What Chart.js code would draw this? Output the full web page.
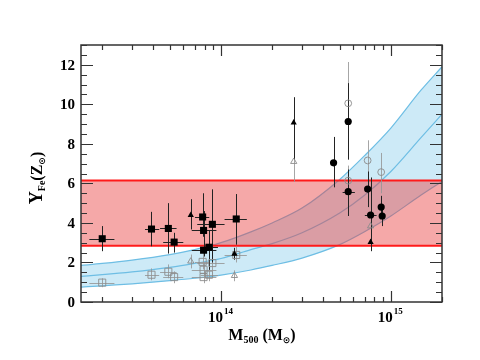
<!DOCTYPE html>
<html><head><meta charset="utf-8">
<script src="https://cdn.jsdelivr.net/npm/chart.js@4.4.0/dist/chart.umd.min.js"></script>
<style>html,body{margin:0;padding:0;background:#fff}</style>
</head><body>
<canvas id="c" width="480" height="360" style="width:480px;height:360px;display:block"></canvas>
<script>
// ---- axis ranges & tick labels ----
const xMin = 1.5e13, xMax = 2e15;
const yMin = 0, yMax = 13;
const yTickLabels = [0, 2, 4, 6, 8, 10, 12];
const xTickLabels = [1e14, 1e15];

// ---- red band ----
const redLow = 2.85, redHigh = 6.15;

// ---- blue band (read at sample masses) ----
const bandM      = [1.5e13, 2e13, 3e13, 5e13, 7e13, 1e14, 1.5e14, 2e14, 3e14, 5e14, 7e14, 1e15, 1.5e15, 2e15];
const bandUpper  = [1.85, 1.95, 2.12, 2.4, 2.65, 3.0, 3.55, 4.0, 4.75, 6.2, 7.4, 8.8, 10.7, 11.9];
const bandCenter = [1.3, 1.38, 1.52, 1.75, 1.95, 2.2, 2.65, 2.95, 3.5, 4.5, 5.4, 6.6, 8.3, 9.5];
const bandLower  = [0.75, 0.82, 0.92, 1.08, 1.2, 1.36, 1.62, 1.85, 2.22, 2.9, 3.55, 4.35, 5.4, 6.1];

// ---- filled squares ----
const sqM   = [2.0e13, 3.9e13, 4.9e13, 5.3e13, 7.8e13, 7.9e13, 8.9e13, 7.9e13, 8.5e13, 1.23e14];
const sqY   = [3.2, 3.69, 3.72, 3.03, 4.3, 3.62, 3.93, 2.62, 2.77, 4.2];
const sqYlo = [2.57, 2.82, 2.45, 2.5, 3.3, 2.6, 2.0, 2.3, 1.63, 2.9];
const sqYhi = [3.84, 4.56, 5.0, 3.5, 5.5, 4.6, 5.7, 2.9, 3.6, 5.46];
const sqMlo = [1.68e13, 3.57e13, 4.38e13, 4.57e13, 7.03e13, 6.73e13, 7.25e13, 6.73e13, 7.6e13, 1.05e14];
const sqMhi = [2.36e13, 4.33e13, 5.48e13, 6.0e13, 8.53e13, 9.4e13, 1.05e14, 9.4e13, 9.6e13, 1.42e14];

// ---- filled triangles ----
const triM   = [6.64e13, 1.2e14, 2.68e14, 7.6e14];
const triY   = [4.39, 2.43, 9.07, 3.03];
const triYlo = [3.67, 2.14, 7.2, 2.6];
const triYhi = [5.2, 2.74, 10.36, 3.6];

// ---- filled circles ----
const cirM   = [4.6e14, 5.61e14, 5.61e14, 7.3e14, 7.6e14, 8.77e14, 8.89e14];
const cirY   = [7.04, 9.13, 5.58, 5.71, 4.4, 4.8, 4.35];
const cirYlo = [5.8, 7.2, 4.35, 4.8, 2.57, 4.3, 3.84];
const cirYhi = [8.35, 11.07, 6.7, 6.6, 6.3, 5.37, 4.8];
const cirMlo = [4.6e14, 5.61e14, 5.2e14, 7.3e14, 7.03e14, 8.77e14, 8.89e14];
const cirMhi = [4.6e14, 5.61e14, 6.14e14, 7.3e14, 8.24e14, 8.77e14, 8.89e14];

// ---- open circles ----
const ocM   = [5.61e14, 7.3e14, 8.77e14, 5.61e14];
const ocY   = [10.05, 7.16, 6.57, 6.14];
const ocYlo = [8.0, 5.5, 5.5, 5.4];
const ocYhi = [12.14, 8.18, 7.54, 6.9];

// ---- open squares ----
const osM   = [2.0e13, 3.9e13, 4.9e13, 5.3e13, 7.8e13, 7.9e13, 8.9e13, 7.9e13, 8.5e13, 1.23e14];
const osY   = [0.98, 1.38, 1.53, 1.26, 2.03, 1.63, 1.97, 1.26, 1.38, 2.38];
const osYlo = [0.75, 1.1, 1.2, 0.95, 1.65, 1.3, 1.55, 0.95, 1.05, 2.0];
const osYhi = [1.2, 1.7, 1.9, 1.55, 2.5, 2.0, 2.4, 1.6, 1.75, 2.8];

// ---- open triangles ----
const otM   = [6.64e13, 1.2e14, 2.68e14, 7.6e14];
const otY   = [2.06, 1.33, 7.1, 3.84];
const otYlo = [1.7, 1.05, 6.07, 3.4];
const otYhi = [2.4, 1.6, 7.6, 4.3];

const pts = (xs, ys) => xs.map((x, i) => ({x: x, y: ys[i]}));

const errGroups = [
  {M: osM, Y: osY, lo: osYlo, hi: osYhi, mlo: sqMlo, mhi: sqMhi, color: 'rgba(150,150,150,0.85)'},
  {M: otM, Y: otY, lo: otYlo, hi: otYhi, color: 'rgba(150,150,150,0.85)'},
  {M: ocM, Y: ocY, lo: ocYlo, hi: ocYhi, color: 'rgba(150,150,150,0.85)'},
  {M: sqM, Y: sqY, lo: sqYlo, hi: sqYhi, mlo: sqMlo, mhi: sqMhi, color: '#222'},
  {M: triM, Y: triY, lo: triYlo, hi: triYhi, color: '#222'},
  {M: cirM, Y: cirY, lo: cirYlo, hi: cirYhi, mlo: cirMlo, mhi: cirMhi, color: '#222'}
];

const serif = '"Liberation Serif", "DejaVu Serif", serif';

const errorBars = {
  id: 'errorBars',
  afterDatasetDraw(chart, args) {
    if (chart.data.datasets[args.index].tag !== 'redTop') return;
    const xs = chart.scales.x, ys = chart.scales.y, ctx = chart.ctx;
    ctx.save();
    ctx.lineWidth = 1;
    errGroups.forEach(g => {
      ctx.strokeStyle = g.color;
      g.M.forEach((m, i) => {
        const px = Math.round(xs.getPixelForValue(m)) + 0.5;
        const py = Math.round(ys.getPixelForValue(g.Y[i])) + 0.5;
        ctx.beginPath();
        ctx.moveTo(px, ys.getPixelForValue(g.lo[i]));
        ctx.lineTo(px, ys.getPixelForValue(g.hi[i]));
        if (g.mlo) {
          ctx.moveTo(xs.getPixelForValue(g.mlo[i]), py);
          ctx.lineTo(xs.getPixelForValue(g.mhi[i]), py);
        }
        ctx.stroke();
      });
    });
    ctx.restore();
  }
};

const frame = {
  id: 'frame',
  afterDraw(chart) {
    const ctx = chart.ctx, ca = chart.chartArea, xs = chart.scales.x, ys = chart.scales.y;
    ctx.save();
    ctx.strokeStyle = '#333';
    ctx.lineWidth = 1.5;
    ctx.strokeRect(ca.left, ca.top, ca.right - ca.left, ca.bottom - ca.top);
    ctx.lineWidth = 1.2;
    ctx.beginPath();
    for (let v = yMin; v <= yMax + 1e-9; v += 0.5) {
      const py = Math.round(ys.getPixelForValue(v)) + 0.5;
      const len = (Math.abs(v % 2) < 1e-9) ? 12 : 6;
      ctx.moveTo(ca.left, py); ctx.lineTo(ca.left + len, py);
      ctx.moveTo(ca.right, py); ctx.lineTo(ca.right - len, py);
    }
    for (let e = 13; e <= 15; e++) {
      for (let k = 1; k <= 9; k++) {
        const val = k * Math.pow(10, e);
        if (val < xMin * 0.999 || val > xMax * 1.001) continue;
        const px = Math.round(xs.getPixelForValue(val)) + 0.5;
        const len = k === 1 ? 11 : 5;
        ctx.moveTo(px, ca.bottom); ctx.lineTo(px, ca.bottom - len);
        ctx.moveTo(px, ca.top); ctx.lineTo(px, ca.top + len);
      }
    }
    ctx.stroke();

    // y tick labels
    ctx.fillStyle = '#000';
    ctx.font = 'bold 15px ' + serif;
    ctx.textAlign = 'right';
    ctx.textBaseline = 'middle';
    yTickLabels.forEach(v => ctx.fillText(String(v), ca.left - 6, ys.getPixelForValue(v) + 1));

    // x tick labels with superscript exponent
    xTickLabels.forEach(v => {
      const px = xs.getPixelForValue(v);
      const exp = String(Math.round(Math.log10(v)));
      ctx.textBaseline = 'alphabetic';
      ctx.font = 'bold 15px ' + serif;
      const w1 = ctx.measureText('10').width;
      ctx.font = 'bold 9px ' + serif;
      const w2 = ctx.measureText(exp).width;
      const x0 = px - (w1 + w2) / 2 - 1;
      ctx.textAlign = 'left';
      ctx.font = 'bold 15px ' + serif;
      ctx.fillText('10', x0, 322);
      ctx.font = 'bold 9px ' + serif;
      ctx.fillText(exp, x0 + w1 + 1, 314);
    });

    // x title: M_500 (M_sun)
    const drawParts = (parts, x, y, align) => {
      let total = 0;
      parts.forEach(p => { ctx.font = 'bold ' + p.s + 'px ' + (p.f || serif); p.w = ctx.measureText(p.t).width; total += p.w; });
      let cx = align === 'center' ? x - total / 2 : x;
      parts.forEach(p => {
        ctx.font = 'bold ' + p.s + 'px ' + (p.f || serif);
        ctx.textAlign = 'left';
        ctx.fillText(p.t, cx, y + (p.dy || 0));
        cx += p.w;
      });
    };
    ctx.textBaseline = 'alphabetic';
    drawParts([
      {t: 'M', s: 16}, {t: '500', s: 10, dy: 3}, {t: ' (M', s: 16},
      {t: '\u2299', s: 9, dy: 3, f: '"DejaVu Sans", sans-serif'}, {t: ')', s: 16}
    ], 262, 340, 'center');

    // y title: Y_Fe (Z_sun), rotated
    ctx.save();
    ctx.translate(42, 178);
    ctx.rotate(-Math.PI / 2);
    drawParts([
      {t: 'Y', s: 18}, {t: 'Fe', s: 10, dy: 3}, {t: '(Z', s: 16},
      {t: '\u2299', s: 9, dy: 3, f: '"DejaVu Sans", sans-serif'}, {t: ')', s: 16}
    ], 0, 0, 'center');
    ctx.restore();
    ctx.restore();
  }
};

const blueFill = 'rgba(135,206,235,0.42)';
const blueLine = 'rgb(110,190,228)';

new Chart(document.getElementById('c'), {
  data: {
    datasets: [
      // filled markers (on top)
      {type: 'scatter', data: pts(sqM, sqY), pointStyle: 'rect', pointRadius: 5, backgroundColor: '#000', borderColor: '#000', borderWidth: 0, order: 0},
      {type: 'scatter', data: pts(cirM, cirY), pointStyle: 'circle', pointRadius: 3.6, backgroundColor: '#000', borderColor: '#000', borderWidth: 0, order: 0},
      {type: 'scatter', data: pts(triM, triY), pointStyle: 'triangle', pointRadius: 3.6, backgroundColor: '#000', borderColor: '#000', borderWidth: 0, order: 0},
      // open markers
      {type: 'scatter', data: pts(osM, osY), pointStyle: 'rect', pointRadius: 5, backgroundColor: 'rgba(0,0,0,0)', borderColor: 'rgba(140,140,140,0.9)', borderWidth: 1, order: 1},
      {type: 'scatter', data: pts(ocM, ocY), pointStyle: 'circle', pointRadius: 3.4, backgroundColor: 'rgba(0,0,0,0)', borderColor: 'rgba(140,140,140,0.9)', borderWidth: 1, order: 1},
      {type: 'scatter', data: pts(otM, otY), pointStyle: 'triangle', pointRadius: 3.6, backgroundColor: 'rgba(0,0,0,0)', borderColor: 'rgba(140,140,140,0.9)', borderWidth: 1, order: 1},
      // red band
      {type: 'line', tag: 'redTop', data: [{x: xMin, y: redHigh}, {x: xMax, y: redHigh}], borderColor: '#ff1a1a', borderWidth: 2, pointRadius: 0, fill: false, order: 5},
      {type: 'line', tag: 'redBottom', data: [{x: xMin, y: redLow}, {x: xMax, y: redLow}], borderColor: '#ff1a1a', borderWidth: 2, pointRadius: 0, fill: '-1', backgroundColor: 'rgba(232,62,62,0.45)', order: 5},
      // blue band
      {type: 'line', data: pts(bandM, bandUpper), borderColor: blueLine, borderWidth: 1.2, pointRadius: 0, fill: false, cubicInterpolationMode: 'monotone', order: 10},
      {type: 'line', data: pts(bandM, bandCenter), borderColor: blueLine, borderWidth: 1.2, pointRadius: 0, fill: false, cubicInterpolationMode: 'monotone', order: 10},
      {type: 'line', data: pts(bandM, bandLower), borderColor: blueLine, borderWidth: 1.2, pointRadius: 0, fill: '-2', backgroundColor: blueFill, cubicInterpolationMode: 'monotone', order: 10}
    ]
  },
  options: {
    responsive: false,
    animation: false,
    devicePixelRatio: 1,
    layout: {padding: {left: 81, right: 38, top: 45, bottom: 58}},
    clip: false,
    scales: {
      x: {type: 'logarithmic', min: xMin, max: xMax, display: false},
      y: {type: 'linear', min: yMin, max: yMax, display: false}
    },
    plugins: {legend: {display: false}, tooltip: {enabled: false}, title: {display: false}}
  },
  plugins: [errorBars, frame]
});
</script>
</body></html>
